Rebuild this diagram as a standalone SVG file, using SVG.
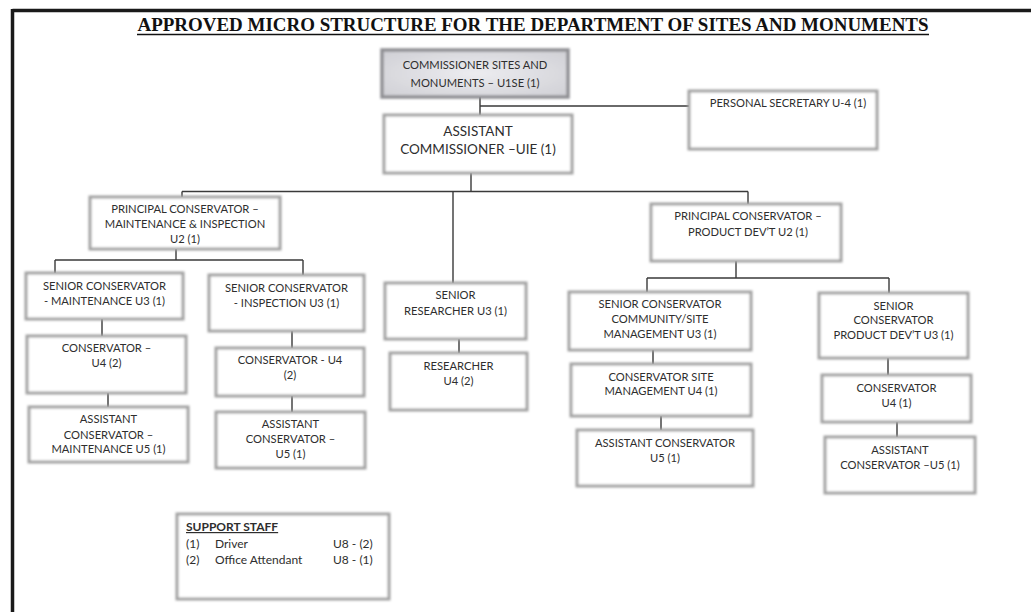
<svg xmlns="http://www.w3.org/2000/svg" width="1031" height="612" viewBox="0 0 1031 612">
  <style>
    .box { fill: #ffffff; stroke: #a2a2a2; stroke-width: 3; filter: url(#soft); }
    .box-dark { fill: url(#greyFill); stroke: #909094; stroke-width: 3.5; filter: url(#soft); }
    .lbl { font-family: Lato, "Open Sans", sans-serif; font-size: 11.2px; fill: #2e2e2e; text-anchor: middle; }
    .big { font-size: 13.5px; }
    .staff { font-family: Lato, "Open Sans", sans-serif; font-size: 12px; fill: #2e2e2e; }
    .title { font-family: "Liberation Serif", serif; font-weight: bold; font-size: 19px; fill: #111111; text-anchor: middle; }
    .conn { stroke: #3a3a3a; stroke-width: 1.4; fill: none; }
  </style>
  <defs>
    <!-- slight softening of the box edges -->
    <filter id="soft" x="-5%" y="-10%" width="110%" height="120%">
      <feGaussianBlur stdDeviation="0.8"/>
    </filter>
    <radialGradient id="greyFill" cx="50%" cy="50%" r="70%">
      <stop offset="0" stop-color="#ececf0"/>
      <stop offset="1" stop-color="#cfcfd4"/>
    </radialGradient>
  </defs>

  <rect x="0" y="0" width="1031" height="612" fill="#ffffff"/>

  <!-- page frame -->
  <g id="frame" stroke="#1a1a1a" stroke-width="3.5" fill="none">
    <line x1="12.5" y1="10.5" x2="1031" y2="10.5"/>
    <line x1="12.5" y1="9" x2="12.5" y2="612"/>
  </g>

  <g id="title">
    <text class="title" x="533" y="31" textLength="791" lengthAdjust="spacingAndGlyphs">APPROVED MICRO STRUCTURE FOR THE DEPARTMENT OF SITES AND MONUMENTS</text>
    <line x1="137" y1="34.5" x2="929" y2="34.5" stroke="#111111" stroke-width="1.3"/>
  </g>

  <!-- reporting lines -->
  <g id="connectors" class="conn">
    <path d="M480 97 V115 M480 106 H689"/>
    <path d="M471 173 V191.5 M182 191.5 H748 M182 191.5 V197 M453 191.5 V283 M748 191.5 V204"/>
    <path d="M176 249 V260 M55 260 H303 M55 260 V273 M303 260 V275"/>
    <path d="M736 261 V278 M647 278 H889 M647 278 V292 M889 278 V293"/>
    <path d="M102 319 V336 M108 393 V407"/>
    <path d="M292 331 V348 M292 396 V412"/>
    <path d="M459 339 V353"/>
    <path d="M653 350 V364 M661 416 V430"/>
    <path d="M888 358 V375 M897 422 V437"/>
  </g>

  <g id="commissioner">
    <rect class="box-dark" x="382" y="50" width="186" height="47"/>
    <text class="lbl" x="475" y="69">COMMISSIONER SITES AND</text>
    <text class="lbl" x="475" y="87">MONUMENTS – U1SE (1)</text>
  </g>

  <g id="assistant-commissioner">
    <rect class="box" x="384" y="115" width="188" height="58"/>
    <text class="lbl big" x="478" y="136">ASSISTANT</text>
    <text class="lbl big" x="478" y="154">COMMISSIONER –UIE (1)</text>
  </g>

  <g id="personal-secretary">
    <rect class="box" x="689" y="91" width="188" height="58"/>
    <text class="lbl" x="788" y="107">PERSONAL SECRETARY U-4 (1)</text>
  </g>

  <g id="principal-maintenance">
    <rect class="box" x="90" y="197" width="190" height="52"/>
    <text class="lbl" x="185" y="213">PRINCIPAL CONSERVATOR –</text>
    <text class="lbl" x="185" y="228">MAINTENANCE &amp; INSPECTION</text>
    <text class="lbl" x="185" y="243">U2 (1)</text>
  </g>

  <g id="principal-product">
    <rect class="box" x="651" y="204" width="190" height="57"/>
    <text class="lbl" x="748" y="220">PRINCIPAL CONSERVATOR –</text>
    <text class="lbl" x="748" y="236">PRODUCT DEV’T U2 (1)</text>
  </g>

  <g id="senior-maintenance">
    <rect class="box" x="26" y="273" width="157" height="46"/>
    <text class="lbl" x="104.5" y="290">SENIOR CONSERVATOR</text>
    <text class="lbl" x="104.5" y="304.5">- MAINTENANCE U3 (1)</text>
  </g>

  <g id="senior-inspection">
    <rect class="box" x="209" y="275" width="155" height="56"/>
    <text class="lbl" x="286.5" y="292">SENIOR CONSERVATOR</text>
    <text class="lbl" x="286.5" y="307">- INSPECTION U3 (1)</text>
  </g>

  <g id="senior-researcher">
    <rect class="box" x="385" y="283" width="141" height="56"/>
    <text class="lbl" x="455.5" y="299">SENIOR</text>
    <text class="lbl" x="455.5" y="314.5">RESEARCHER U3 (1)</text>
  </g>

  <g id="senior-community">
    <rect class="box" x="569" y="292" width="182" height="58"/>
    <text class="lbl" x="660" y="308">SENIOR CONSERVATOR</text>
    <text class="lbl" x="660" y="323">COMMUNITY/SITE</text>
    <text class="lbl" x="660" y="338">MANAGEMENT U3 (1)</text>
  </g>

  <g id="senior-product">
    <rect class="box" x="819" y="293" width="149" height="65"/>
    <text class="lbl" x="893.5" y="309.5">SENIOR</text>
    <text class="lbl" x="893.5" y="324">CONSERVATOR</text>
    <text class="lbl" x="893.5" y="339">PRODUCT DEV’T U3 (1)</text>
  </g>

  <g id="conservator-maintenance">
    <rect class="box" x="27" y="336" width="159" height="57"/>
    <text class="lbl" x="106.5" y="351.5">CONSERVATOR –</text>
    <text class="lbl" x="106.5" y="367">U4 (2)</text>
  </g>

  <g id="conservator-inspection">
    <rect class="box" x="216" y="348" width="148" height="48"/>
    <text class="lbl" x="290" y="364">CONSERVATOR - U4</text>
    <text class="lbl" x="290" y="379">(2)</text>
  </g>

  <g id="researcher">
    <rect class="box" x="390" y="353" width="137" height="57"/>
    <text class="lbl" x="458.5" y="369.5">RESEARCHER</text>
    <text class="lbl" x="458.5" y="385">U4 (2)</text>
  </g>

  <g id="conservator-site">
    <rect class="box" x="571" y="364" width="180" height="52"/>
    <text class="lbl" x="661" y="380.5">CONSERVATOR SITE</text>
    <text class="lbl" x="661" y="394.5">MANAGEMENT U4 (1)</text>
  </g>

  <g id="conservator-product">
    <rect class="box" x="822" y="375" width="149" height="47"/>
    <text class="lbl" x="896.5" y="391.5">CONSERVATOR</text>
    <text class="lbl" x="896.5" y="406.5">U4 (1)</text>
  </g>

  <g id="assistant-maintenance">
    <rect class="box" x="29" y="407" width="159" height="55"/>
    <text class="lbl" x="108.5" y="423">ASSISTANT</text>
    <text class="lbl" x="108.5" y="438.5">CONSERVATOR –</text>
    <text class="lbl" x="108.5" y="453">MAINTENANCE U5 (1)</text>
  </g>

  <g id="assistant-inspection">
    <rect class="box" x="216" y="412" width="149" height="56"/>
    <text class="lbl" x="290.5" y="428">ASSISTANT</text>
    <text class="lbl" x="290.5" y="443">CONSERVATOR –</text>
    <text class="lbl" x="290.5" y="457.5">U5 (1)</text>
  </g>

  <g id="assistant-site">
    <rect class="box" x="577" y="430" width="176" height="56"/>
    <text class="lbl" x="665" y="446.5">ASSISTANT CONSERVATOR</text>
    <text class="lbl" x="665" y="462">U5 (1)</text>
  </g>

  <g id="assistant-product">
    <rect class="box" x="825" y="437" width="150" height="56"/>
    <text class="lbl" x="900" y="454">ASSISTANT</text>
    <text class="lbl" x="900" y="469">CONSERVATOR –U5 (1)</text>
  </g>

  <g id="support-staff">
    <rect class="box" x="177" y="514" width="212" height="85"/>
    <text class="staff" x="186" y="531" font-weight="bold" text-decoration="underline">SUPPORT STAFF</text>
    <text class="staff" x="186" y="548">(1)</text>
    <text class="staff" x="215" y="548">Driver</text>
    <text class="staff" x="333" y="548">U8 - (2)</text>
    <text class="staff" x="186" y="564">(2)</text>
    <text class="staff" x="215" y="564">Office Attendant</text>
    <text class="staff" x="333" y="564">U8 - (1)</text>
  </g>
</svg>
